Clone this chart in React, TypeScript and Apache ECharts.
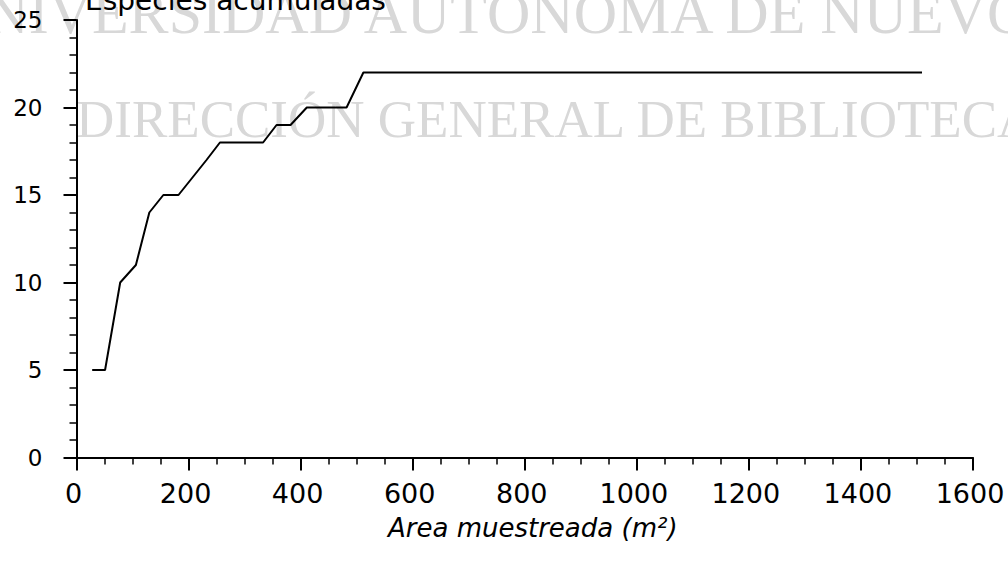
import React, { useEffect, useRef } from "react";
import * as echarts from "echarts";

const areaValues = [28, 51, 78, 106, 130, 155, 182, 207, 232, 256, 333, 357, 382, 411, 482, 512, 1509];
const speciesValues = [5, 5, 10, 11, 14, 15, 15, 16, 17, 18, 18, 19, 19, 20, 20, 22, 22];
const chartTitle = "Especies acumuladas";
const xAxisName = "Area muestreada (m²)";
const watermarkLines = ["UNIVERSIDAD AUTÓNOMA DE NUEVO LEÓN", "DIRECCIÓN GENERAL DE BIBLIOTECAS"];

export default function App() {
  const ref = useRef<HTMLDivElement>(null);
  useEffect(() => {
    if (!ref.current) return;
    const chart = echarts.init(ref.current, null, { renderer: "svg" });
    const data = areaValues.map((x, i) => [x, speciesValues[i]]);
    chart.setOption({
      animation: false,
      backgroundColor: "#ffffff",
      grid: { left: 76.5, right: 35, top: 20, bottom: 106.5 },
      graphic: {
        elements: [
          {
            type: "text",
            x: -58,
            y: 12.6,
            z: -10,
            silent: true,
            style: {
              text: watermarkLines[0],
              fontFamily: "Liberation Serif",
              fontSize: 60,
              fill: "#d8d8d8",
              verticalAlign: "middle",
            },
          },
          {
            type: "text",
            x: 76,
            y: 119,
            z: -10,
            silent: true,
            style: {
              text: watermarkLines[1],
              fontFamily: "Liberation Serif",
              fontSize: 53,
              fill: "#d8d8d8",
              verticalAlign: "middle",
            },
          },
          {
            type: "text",
            x: 85,
            y: 0.3,
            z: 10,
            silent: true,
            style: {
              text: chartTitle,
              fontFamily: "DejaVu Sans",
              fontSize: 28,
              fill: "#000000",
              verticalAlign: "middle",
            },
          },
        ],
      },
      xAxis: {
        type: "value",
        min: 0,
        max: 1600,
        interval: 200,
        name: xAxisName,
        nameLocation: "middle",
        nameGap: 57,
        nameTextStyle: {
          fontFamily: "DejaVu Sans",
          fontSize: 26,
          fontStyle: "italic",
          color: "#000",
          padding: [0, 0, 0, 16],
        },
        axisLine: { show: true, lineStyle: { color: "#000", width: 2 } },
        axisTick: { show: true, length: 13, lineStyle: { color: "#000", width: 2 } },
        minorTick: { show: true, splitNumber: 4, length: 7, lineStyle: { color: "#000", width: 1.5 } },
        splitLine: { show: false },
        axisLabel: {
          fontFamily: "DejaVu Sans",
          fontSize: 27,
          color: "#000",
          margin: 22,
          padding: [0, 6, 0, 0],
          formatter: (v: number) => String(v),
        },
      },
      yAxis: {
        type: "value",
        min: 0,
        max: 25,
        interval: 5,
        axisLine: { show: true, lineStyle: { color: "#000", width: 2 } },
        axisTick: { show: true, length: 13, lineStyle: { color: "#000", width: 2 } },
        minorTick: { show: true, splitNumber: 5, length: 7, lineStyle: { color: "#000", width: 1.5 } },
        splitLine: { show: false },
        axisLabel: {
          fontFamily: "DejaVu Sans",
          fontSize: 23,
          color: "#000",
          margin: 34,
          padding: [10, 0, 0, 0],
        },
      },
      series: [
        {
          type: "line",
          data,
          showSymbol: false,
          symbol: "none",
          lineStyle: { color: "#000", width: 2 },
          z: 5,
        },
      ],
    });
    return () => chart.dispose();
  }, []);
  return (
    <div
      ref={ref}
      style={{ position: "absolute", left: 0, top: 0, width: 1008, height: 564 }}
    />
  );
}
